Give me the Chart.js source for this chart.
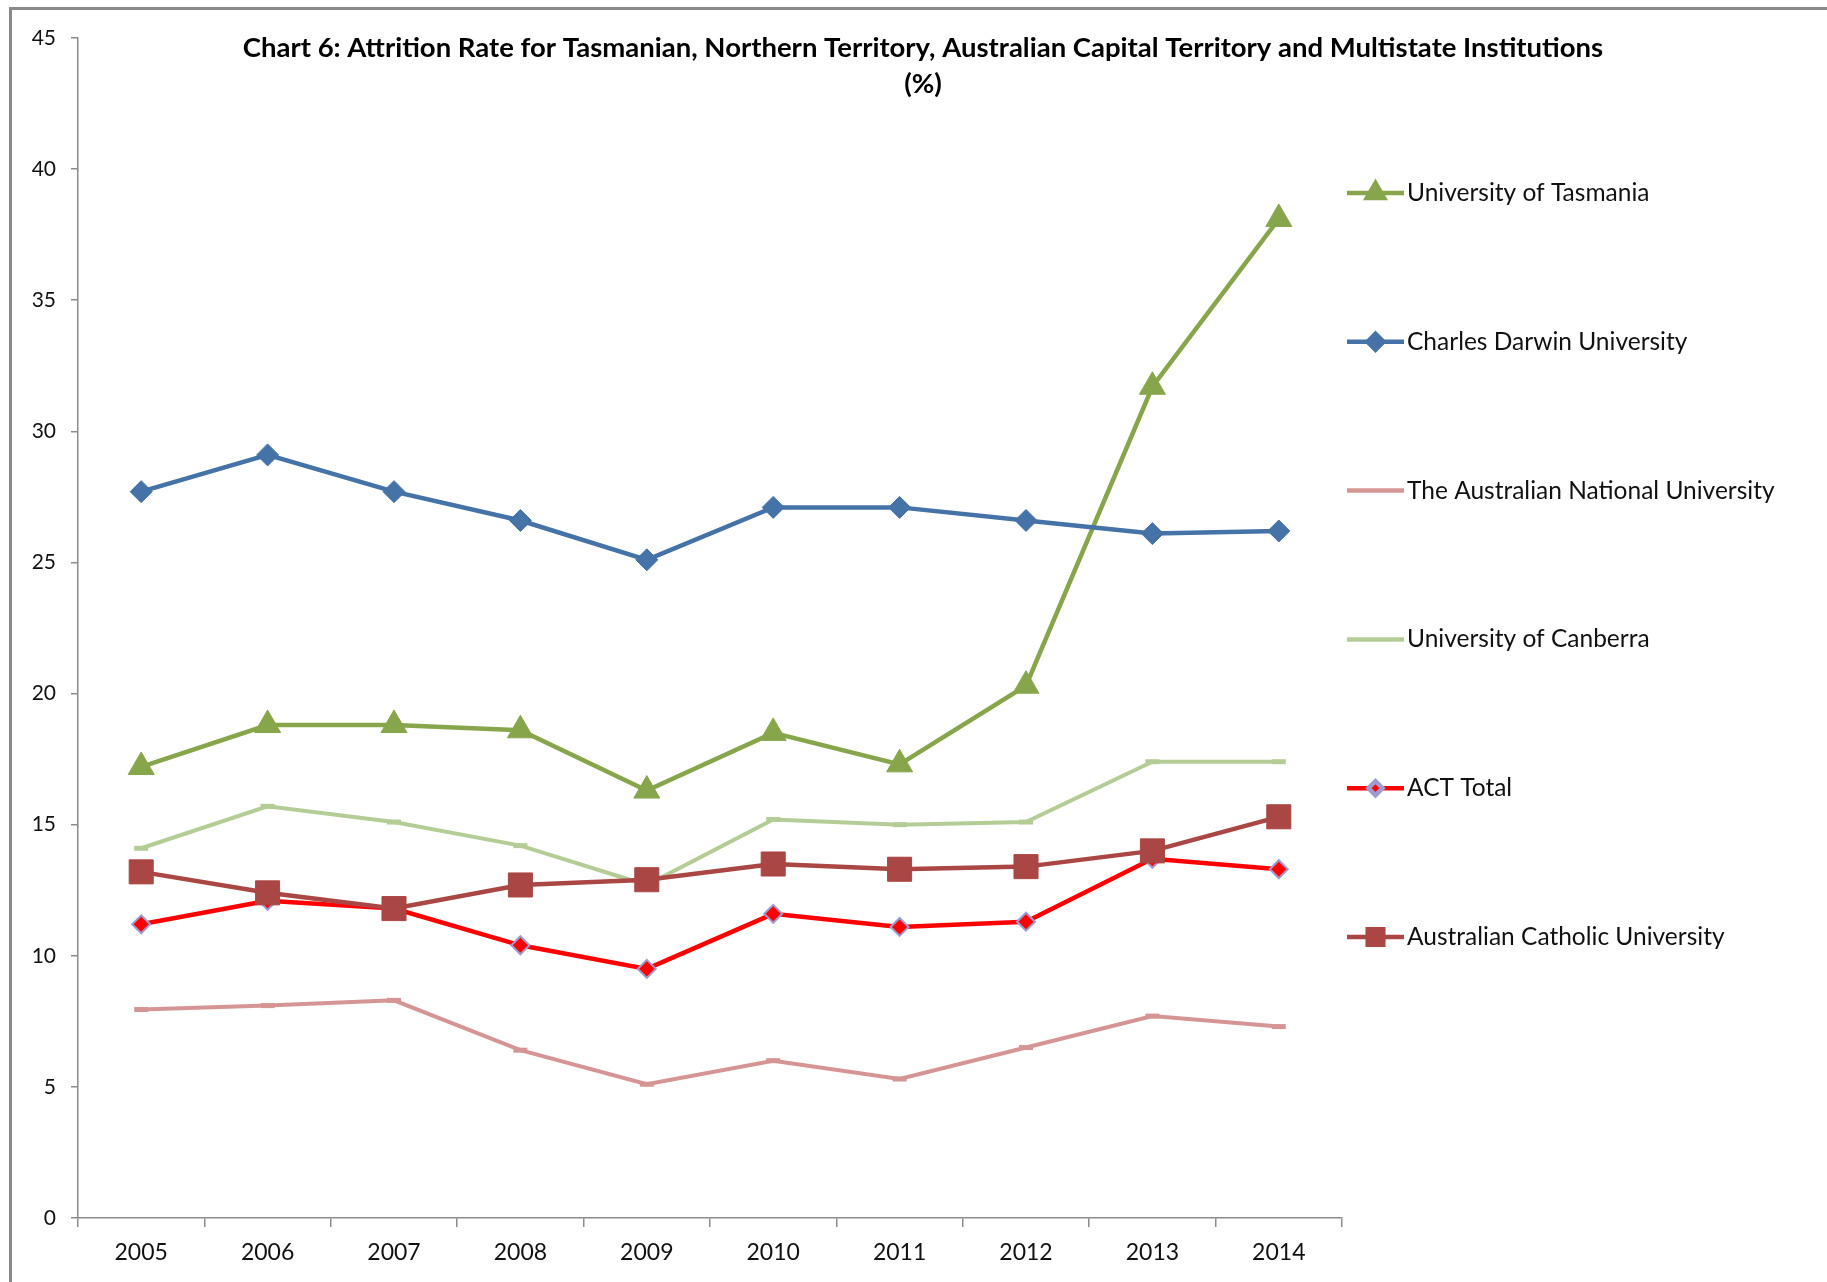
<!DOCTYPE html>
<html>
<head>
<meta charset="utf-8">
<script src="https://cdn.jsdelivr.net/npm/chart.js@4"></script>
<style>
  body { margin: 0; background: #fff; }
  #wrap { position: relative; width: 1827px; height: 1282px; }
  #frame { position: absolute; left: 9px; top: 7px; right: 0; bottom: 0;
           border-top: 3px solid #8a8a8a; border-left: 3px solid #8a8a8a; pointer-events: none; }
</style>
</head>
<body>
<div id="wrap">
  <canvas id="chart6"></canvas>
  <div id="frame"></div>
</div>
<script>
const years = ['2005', '2006', '2007', '2008', '2009', '2010', '2011', '2012', '2013', '2014'];
const yTicks = [0, 5, 10, 15, 20, 25, 30, 35, 40, 45];

const tasmania = [17.2, 18.8, 18.8, 18.6, 16.3, 18.5, 17.3, 20.3, 31.7, 38.1];
const darwin   = [27.7, 29.1, 27.7, 26.6, 25.1, 27.1, 27.1, 26.6, 26.1, 26.2];
const anu      = [7.95, 8.1, 8.3, 6.4, 5.1, 6.0, 5.3, 6.5, 7.7, 7.3];
const canberra = [14.1, 15.7, 15.1, 14.2, 12.7, 15.2, 15.0, 15.1, 17.4, 17.4];
const actTotal = [11.2, 12.1, 11.8, 10.4, 9.5, 11.6, 11.1, 11.3, 13.7, 13.3];
const acu      = [13.2, 12.4, 11.8, 12.7, 12.9, 13.5, 13.3, 13.4, 14.0, 15.3];

const titleLines = ['Chart 6: Attrition Rate for Tasmanian, Northern Territory, Australian Capital Territory and Multistate Institutions', '(%)'];

const FONT = 'Lato, "Open Sans", sans-serif';

function series(label, data, color, style, radius, extra) {
    return Object.assign({
        label: label,
        data: data,
        borderColor: color,
        backgroundColor: color,
        borderWidth: 4.5,
        pointStyle: style,
        pointRadius: radius,
        pointHoverRadius: radius,
        pointBackgroundColor: color,
        pointBorderColor: color,
        pointBorderWidth: 1,
        tension: 0
    }, extra || {});
}

const datasets = [
    series('University of Tasmania', tasmania, '#87a64b', 'triangle', 15, { order: 6, legendRadius: 10 }),
    series('Charles Darwin University', darwin, '#4572a7', 'rectRot', 11, { order: 5, legendRadius: 8 }),
    series('The Australian National University', anu, '#d69595', 'line', 7, { order: 4, borderWidth: 4, pointBorderWidth: 5, legendRadius: 0 }),
    series('University of Canberra', canberra, '#b4cd96', 'line', 7, { order: 3, borderWidth: 4, pointBorderWidth: 5, legendRadius: 0 }),
    series('ACT Total', actTotal, '#ff0000', 'rectRot', 9, { order: 2, pointBorderColor: '#9c9cd0', pointBorderWidth: 2, legendRadius: 7 }),
    series('Australian Catholic University', acu, '#aa4643', 'rect', 17, { order: 1, legendRadius: 11 })
];

/* title + excel style legend drawn on the canvas */
const extrasPlugin = {
    id: 'extras',
    afterDraw(chart) {
        const ctx = chart.ctx;
        ctx.save();
        ctx.fillStyle = '#000';
        ctx.textAlign = 'center';
        ctx.textBaseline = 'middle';
        ctx.font = 'bold 27.5px ' + FONT;
        ctx.fillText(titleLines[0], 923, 48);
        ctx.fillText(titleLines[1], 923, 84);

        const x0 = 1347, x1 = 1404, top = 193, step = 148.8;
        chart.data.datasets.forEach((ds, i) => {
            const y = top + i * step;
            ctx.strokeStyle = ds.borderColor;
            ctx.lineWidth = 4.5;
            ctx.beginPath();
            ctx.moveTo(x0, y);
            ctx.lineTo(x1, y);
            ctx.stroke();
            if (ds.legendRadius > 0) {
                ctx.fillStyle = ds.pointBackgroundColor;
                ctx.strokeStyle = ds.pointBorderColor;
                Chart.helpers.drawPoint(ctx, {
                    pointStyle: ds.pointStyle, radius: ds.legendRadius,
                    rotation: 0, borderWidth: ds.pointBorderWidth
                }, (x0 + x1) / 2, y);
            }
            ctx.fillStyle = '#111';
            ctx.textAlign = 'left';
            ctx.font = '24.5px ' + FONT;
            ctx.fillText(ds.label, 1407, y);
        });
        ctx.restore();
    }
};

new Chart(document.getElementById('chart6'), {
    type: 'line',
    data: { labels: years, datasets: datasets },
    options: {
        responsive: true,
        maintainAspectRatio: false,
        animation: false,
        layout: { padding: { left: 12, right: 485, top: 38, bottom: 14 } },
        plugins: {
            legend: { display: false },
            title: { display: false },
            tooltip: { enabled: false }
        },
        scales: {
            x: {
                offset: true,
                grid: { display: true, offset: true, drawOnChartArea: false, tickLength: 9, color: '#8c8c8c', lineWidth: 1.5 },
                border: { color: '#8c8c8c', width: 1.5 },
                ticks: { color: '#111', font: { family: FONT, size: 23 }, padding: 12, maxRotation: 0 },
                afterFit(scale) { scale.height = 50; }
            },
            y: {
                min: 0,
                max: 45,
                afterBuildTicks(scale) { scale.ticks = yTicks.map(v => ({ value: v })); },
                grid: { display: true, drawOnChartArea: false, tickLength: 7, color: '#8c8c8c', lineWidth: 1.5 },
                border: { color: '#8c8c8c', width: 1.5 },
                ticks: { color: '#111', font: { family: FONT, size: 21 }, padding: 15 },
                afterFit(scale) { scale.width = 66; }
            }
        }
    },
    plugins: [extrasPlugin]
});
</script>
</body>
</html>
